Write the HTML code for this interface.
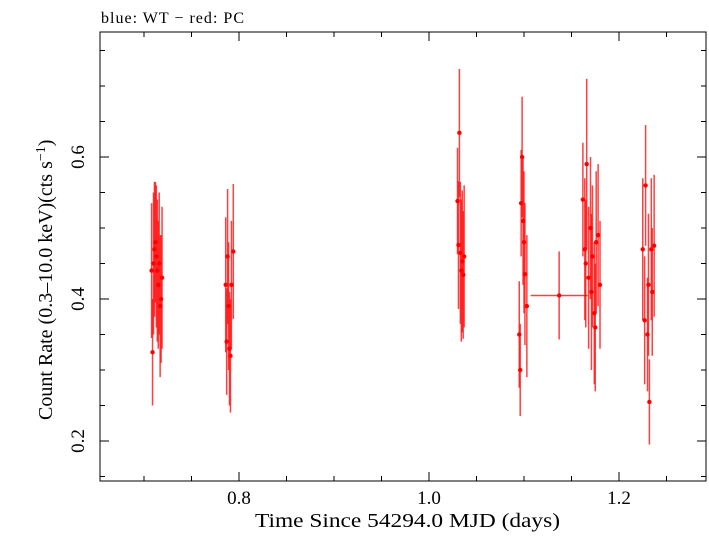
<!DOCTYPE html>
<html><head><meta charset="utf-8"><style>
body{margin:0;background:#fff}
svg text{font-family:"Liberation Serif",serif;fill:#000}
</style></head><body>
<svg id="c" width="709" height="532"></svg>
<script>
const times=[0.708,0.709,0.710,0.711,0.712,0.713,0.714,0.715,0.716,0.717,0.718,0.719,
0.786,0.787,0.788,0.789,0.790,0.791,0.792,0.794,
1.030,1.031,1.032,1.033,1.034,1.035,1.036,1.037,
1.095,1.096,1.097,1.098,1.099,1.100,1.101,1.103,
1.137,
1.162,1.164,1.165,1.166,1.168,1.170,1.171,1.172,1.174,1.175,1.176,1.178,1.180,
1.225,1.227,1.228,1.230,1.231,1.232,1.234,1.235,1.237];
const rates=[0.44,0.325,0.45,0.47,0.48,0.46,0.44,0.42,0.45,0.39,0.40,0.43,
0.42,0.34,0.46,0.39,0.33,0.32,0.42,0.467,
0.538,0.476,0.634,0.465,0.44,0.453,0.434,0.46,
0.35,0.30,0.535,0.60,0.51,0.48,0.435,0.39,
0.405,
0.54,0.47,0.45,0.59,0.43,0.50,0.41,0.46,0.38,0.36,0.48,0.49,0.42,
0.47,0.37,0.56,0.35,0.42,0.255,0.47,0.41,0.475];
const rateErr=[0.095,0.075,0.1,0.095,0.085,0.1,0.1,0.09,0.1,0.1,0.09,0.1,
0.095,0.075,0.095,0.09,0.08,0.08,0.09,0.095,
0.075,0.09,0.09,0.1,0.1,0.1,0.09,0.1,
0.075,0.065,0.075,0.085,0.09,0.1,0.1,0.1,
0.062,
0.08,0.1,0.09,0.12,0.1,0.1,0.11,0.1,0.1,0.09,0.1,0.1,0.09,
0.1,0.09,0.085,0.08,0.1,0.06,0.1,0.09,0.1];
const timeErr=times.map((t,i)=>i===36?0.03:0.001);
const xTicks=[0.8,1.0,1.2];
const yTicks=[0.2,0.4,0.6];
const L=100,R=706,T=32,B=481;
const X=v=>239+(v-0.8)*950;
const Y=v=>299-(v-0.4)*710;
const svg=document.getElementById('c');
const NS='http://www.w3.org/2000/svg';
function mk(tag,at,parent){const e=document.createElementNS(NS,tag);for(const k in at)e.setAttribute(k,at[k]);(parent||svg).appendChild(e);return e;}
const title=mk('text',{x:101,y:23,'font-size':16,textLength:143});title.textContent='blue: WT \u2212 red: PC';


const frame=mk('rect',{x:L,y:T,width:R-L,height:B-T,fill:'none',stroke:'#000','stroke-width':1});


const minorX=[];for(let v=0.65;v<=1.3;v+=0.05)minorX.push(+v.toFixed(2));
minorX.forEach(v=>{const x=X(v);if(x<L||x>R)return;const major=xTicks.some(t=>Math.abs(t-v)<1e-6);const h=major?9:5;
const a=mk('line',{x1:x,x2:x,y1:B,y2:B-h,stroke:'#000'});
const b=mk('line',{x1:x,x2:x,y1:T,y2:T+h,stroke:'#000'});});
for(let v=0.15;v<=0.8;v+=0.05){const y=Y(v);if(y<T||y>B)continue;const major=yTicks.some(t=>Math.abs(t-v)<1e-6);const h=major?9:5;
const a=mk('line',{x1:L,x2:L+h,y1:y,y2:y,stroke:'#000'});
const b=mk('line',{x1:R,x2:R-h,y1:y,y2:y,stroke:'#000'});}
xTicks.forEach(v=>{const t=mk('text',{x:X(v),y:504,'font-size':19,'text-anchor':'middle'});t.textContent=v.toFixed(1);
});
yTicks.forEach(v=>{const t=mk('text',{x:84,y:Y(v),'font-size':19,'text-anchor':'middle',transform:`rotate(-90 84 ${Y(v)})`});t.textContent=v.toFixed(1);
});
const xl=mk('text',{x:255,y:527,'font-size':20,textLength:305,lengthAdjust:'spacingAndGlyphs'});xl.textContent='Time Since 54294.0 MJD (days)';

const yl=mk('text',{x:52,y:420,'font-size':20,transform:'rotate(-90 52 420)'});
yl.innerHTML='Count Rate (0.3\u201310.0 keV)(cts s<tspan dy="-7" font-size="14">\u22121</tspan><tspan dy="7">)</tspan>';

const g=mk('g',{});
times.forEach((t,i)=>{const x=X(t),y=Y(rates[i]);
const v=mk('line',{x1:x,x2:x,y1:Y(rates[i]+rateErr[i]),y2:Y(rates[i]-rateErr[i]),stroke:'#f00','stroke-opacity':0.75,'stroke-width':1.5},g);

const h=mk('line',{x1:X(t-timeErr[i]),x2:X(t+timeErr[i]),y1:y,y2:y,stroke:'#f00','stroke-opacity':0.75,'stroke-width':1.5},g);

const c=mk('circle',{cx:x,cy:y,r:2.2,fill:'#f00'},g);
});
</script>
</body></html>
